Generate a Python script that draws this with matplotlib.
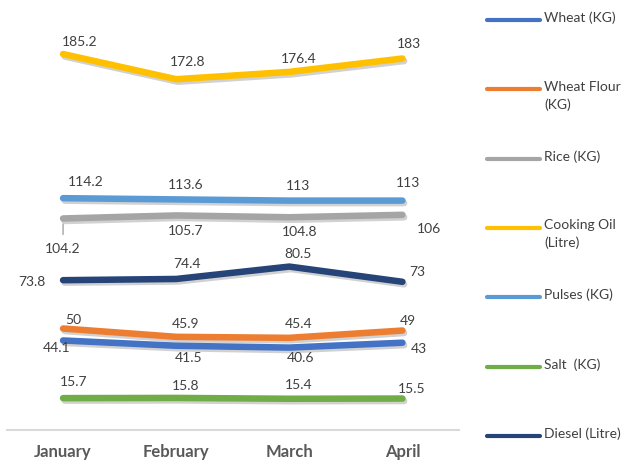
import matplotlib
matplotlib.use("Agg")
import matplotlib.pyplot as plt
import matplotlib.patheffects as pe
from matplotlib.lines import Line2D

plt.rcParams['font.family'] = ['Lato', 'DejaVu Sans']

# Data
months = ["January", "February", "March", "April"]
series_names = ["Wheat (KG)", "Wheat Flour\n(KG)", "Rice (KG)", "Cooking Oil\n(Litre)",
                "Pulses (KG)", "Salt  (KG)", "Diesel (Litre)"]
wheat = [44.1, 41.5, 40.6, 43]
wheat_flour = [50, 45.9, 45.4, 49]
rice = [104.2, 105.7, 104.8, 106]
cooking_oil = [185.2, 172.8, 176.4, 183]
pulses = [114.2, 113.6, 113, 113]
salt = [15.7, 15.8, 15.4, 15.5]
diesel = [73.8, 74.4, 80.5, 73]

series = [wheat, wheat_flour, rice, cooking_oil, pulses, salt, diesel]
colors = ["#4472C4", "#ED7D31", "#A5A5A5", "#FFC000", "#5B9BD5", "#70AD47", "#264478"]

# label offsets in pixels (dx, dy) for each series / month
label_offsets = [
    [(-6, -8), (12, -12), (11, -10), (16, -6)],
    [(10, 8), (9, 13), (9, 14), (5, 10)],
    [(0, -31), (9, -16), (10, -15), (27, -14)],
    [(17, 12), (11, 17), (9, 13), (6, 15)],
    [(23, 16), (9, 14), (9, 15), (6, 18)],
    [(11, 16), (9, 12), (9, 14), (9, 10)],
    [(-31, -2), (11, 15), (9, 13), (15, 10)],
]

W, H = 625, 463
fig = plt.figure(figsize=(6.25, 4.63), dpi=100)
ax = fig.add_axes([6.5 / W, (H - 430) / H, (459 - 6.5) / W, (430 - 24) / H])

shadow = [pe.SimpleLineShadow(offset=(1.2, -1.8), shadow_color="black", alpha=0.18),
          pe.Normal()]

x = list(range(len(months)))
for vals, color, offs in zip(series, colors, label_offsets):
    ax.plot(x, vals, color=color, linewidth=4.7, solid_capstyle="round",
            solid_joinstyle="round", path_effects=shadow)
    for i, v in enumerate(vals):
        ax.annotate(f"{v:g}", (i, v), xytext=(offs[i][0] * 0.72, offs[i][1] * 0.72),
                    textcoords="offset points", ha="center", va="center",
                    fontsize=10, color="#404040")

# leader line for the first rice label
ax.annotate("", (0, rice[0]), xytext=(0, -16 * 0.72), textcoords="offset points",
            arrowprops=dict(arrowstyle="-", color="#A5A5A5", lw=1, shrinkA=0, shrinkB=4))

ax.set_xlim(-0.5, 3.5)
ax.set_ylim(0, 200)
ax.set_xticks(x)
ax.set_xticklabels(months, fontsize=12, fontweight="bold", color="#595959")
ax.tick_params(axis="x", length=0, pad=10)
ax.set_yticks([])
for side in ["top", "left", "right"]:
    ax.spines[side].set_visible(False)
ax.spines["bottom"].set_color("#D9D9D9")
ax.spines["bottom"].set_linewidth(1.5)

# Legend on the right
for k, (name, color) in enumerate(zip(series_names, colors)):
    y = 1 - (20 + k * 69.3) / H
    fig.add_artist(Line2D([487 / W, 540 / W], [y, y], color=color, linewidth=3,
                          solid_capstyle="round", transform=fig.transFigure))
    fig.text(544 / W, y + 8.5 / H, name, ha="left", va="top", fontsize=10,
             color="#404040", linespacing=1.5)

fig.savefig("out.png", dpi=100)
